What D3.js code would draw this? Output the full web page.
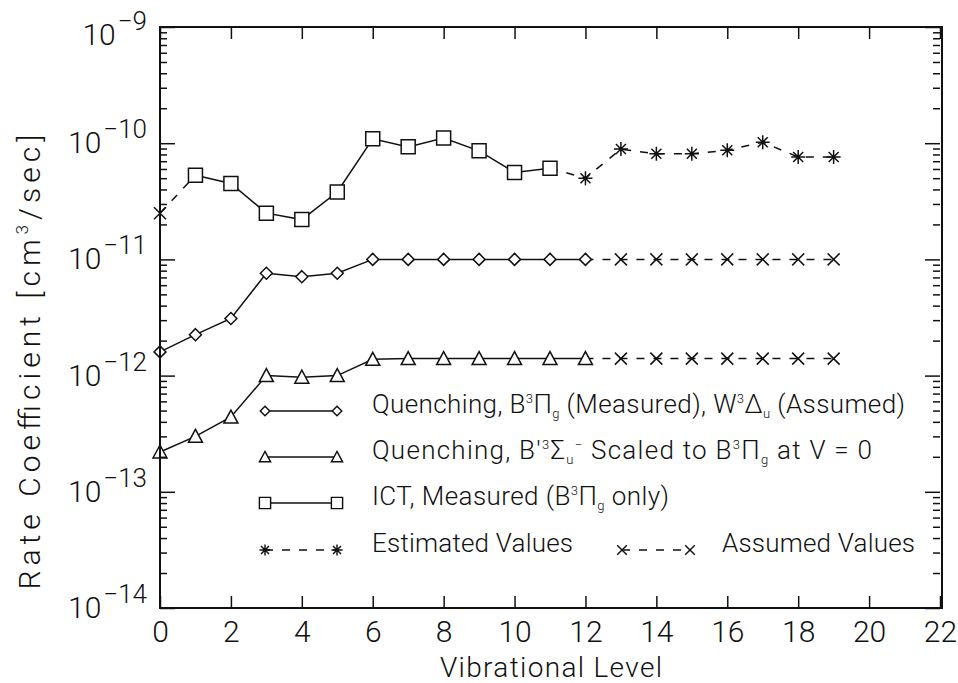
<!DOCTYPE html>
<html>
<head>
<meta charset="utf-8">
<script src="https://cdn.jsdelivr.net/npm/d3@7"></script>
<style>
body { margin:0; background:#fff; }
svg text { font-family: Roboto, "DejaVu Sans", sans-serif; font-weight:300; fill:#111; }
</style>
</head>
<body>
<svg id="chart"></svg>
<script>
// values
var ictLevels = [1,2,3,4,5,6,7,8,9,10,11];
var ictValues = [5.3e-11,4.5e-11,2.5e-11,2.2e-11,3.8e-11,1.09e-10,9.3e-11,1.11e-10,8.6e-11,5.6e-11,6.1e-11];
var ictAssumedLevels = [0];
var ictAssumedValues = [2.5e-11];
var estimatedLevels = [12,13,14,15,16,17,18,19];
var estimatedValues = [5.0e-11,8.9e-11,8.1e-11,8.1e-11,8.7e-11,1.02e-10,7.6e-11,7.6e-11];

var quenchLevels = [0,1,2,3,4,5,6,7,8,9,10,11,12];
var diamondValues = [1.6e-12,2.25e-12,3.1e-12,7.6e-12,7.1e-12,7.6e-12,1.0e-11,1.0e-11,1.0e-11,1.0e-11,1.0e-11,1.0e-11,1.0e-11];
var triangleValues = [2.2e-13,3.0e-13,4.4e-13,1.0e-12,9.7e-13,1.0e-12,1.38e-12,1.4e-12,1.4e-12,1.4e-12,1.4e-12,1.4e-12,1.4e-12];
var assumedLevels = [13,14,15,16,17,18,19];
var diamondAssumed = [1.0e-11,1.0e-11,1.0e-11,1.0e-11,1.0e-11,1.0e-11,1.0e-11];
var triangleAssumed = [1.4e-12,1.4e-12,1.4e-12,1.4e-12,1.4e-12,1.4e-12,1.4e-12];

var xTicks = [0,2,4,6,8,10,12,14,16,18,20,22];
var yDecades = [-14,-13,-12,-11,-10,-9];

var screen = {width:958, height:683};
var plot = {left:160, right:940, top:27, bottom:608};

var svg = d3.select("#chart")
    .attr("width", screen.width)
    .attr("height", screen.height);

var xScale = d3.scaleLinear()
    .domain([0,22])
    .range([plot.left, plot.right]);

var yScale = d3.scaleLog()
    .domain([1e-14,1e-9])
    .range([plot.bottom, plot.top]);

var zip = function(xs, ys) {
    return xs.map(function(x,i){ return {x:x, y:ys[i]}; });
};

// marker shapes, centred on 0,0
var marker = function(type) {
    if (type == "square") return "M-7,-7H7V7H-7Z";
    if (type == "diamond") return "M0,-6L6,0L0,6L-6,0Z";
    if (type == "triangle") return "M0,-7L7,6H-7Z";
    if (type == "asterisk") return "M0,-7V7M-7,0H7M-5,-5L5,5M-5,5L5,-5";
    if (type == "times") return "M-6,-6L6,6M-6,6L6,-6";
};

var line = d3.line()
    .x(function(d){ return xScale(d.x); })
    .y(function(d){ return yScale(d.y); });

var g = svg.append("g");

var drawSeries = function(pts, dashed) {
    g.append("path")
        .datum(pts)
        .attr("d", line)
        .attr("fill","none")
        .attr("stroke","#111")
        .attr("stroke-width",1.5)
        .attr("stroke-dasharray", dashed ? "8,9" : null);
};

var drawMarkers = function(pts, type) {
    g.selectAll(null)
        .data(pts)
        .enter()
        .append("path")
        .attr("transform", function(d){ return "translate("+xScale(d.x)+","+yScale(d.y)+")"; })
        .attr("d", marker(type))
        .attr("fill", type=="asterisk" || type=="times" ? "none" : "#fff")
        .attr("stroke","#111")
        .attr("stroke-width",1.5);
};

var ict = zip(ictLevels, ictValues);
var ictAssumed = zip(ictAssumedLevels, ictAssumedValues);
var estimated = zip(estimatedLevels, estimatedValues);
var diamonds = zip(quenchLevels, diamondValues);
var triangles = zip(quenchLevels, triangleValues);
var dAssumed = zip(assumedLevels, diamondAssumed);
var tAssumed = zip(assumedLevels, triangleAssumed);

// dashed links
drawSeries([ictAssumed[0], ict[0]], true);
drawSeries([ict[ict.length-1]].concat(estimated), true);
drawSeries([diamonds[diamonds.length-1]].concat(dAssumed), true);
drawSeries([triangles[triangles.length-1]].concat(tAssumed), true);
// solid lines
drawSeries(ict, false);
drawSeries(diamonds, false);
drawSeries(triangles, false);

drawMarkers(ict, "square");
drawMarkers(ictAssumed, "times");
drawMarkers(estimated, "asterisk");
drawMarkers(diamonds, "diamond");
drawMarkers(dAssumed, "times");
drawMarkers(triangles, "triangle");
drawMarkers(tAssumed, "times");

// axes: ticks point inward on all four sides
var minors = [];
yDecades.slice(0,-1).forEach(function(e){
    for (var k=2;k<10;k++) minors.push(k*Math.pow(10,e));
});
var majors = yDecades.map(function(e){ return Math.pow(10,e); });

var axes = svg.append("g");
axes.append("g")
    .attr("transform","translate("+plot.left+",0)")
    .call(d3.axisLeft(yScale).tickValues(majors).tickSize(-15).tickFormat(""));
axes.append("g")
    .attr("transform","translate("+plot.left+",0)")
    .call(d3.axisLeft(yScale).tickValues(minors).tickSize(-7).tickFormat(""));
axes.append("g")
    .attr("transform","translate("+plot.right+",0)")
    .call(d3.axisRight(yScale).tickValues(majors).tickSize(-15).tickFormat(""));
axes.append("g")
    .attr("transform","translate("+plot.right+",0)")
    .call(d3.axisRight(yScale).tickValues(minors).tickSize(-7).tickFormat(""));
axes.append("g")
    .attr("class","xaxis")
    .attr("transform","translate(0,"+plot.bottom+")")
    .call(d3.axisBottom(xScale).tickValues(xTicks).tickSize(-12).tickPadding(13));
axes.append("g")
    .attr("transform","translate(0,"+plot.top+")")
    .call(d3.axisTop(xScale).tickValues(xTicks).tickSize(-12).tickFormat(""));

axes.selectAll(".domain").remove();
axes.selectAll(".tick line").attr("stroke","#111").attr("stroke-width",1.5);
axes.selectAll(".xaxis text")
    .style("font-size","30px")
    .attr("fill","#111");

axes.append("rect")
    .attr("x",plot.left).attr("y",plot.top)
    .attr("width",plot.right-plot.left+2).attr("height",plot.bottom-plot.top)
    .attr("fill","none").attr("stroke","#111").attr("stroke-width",2);

// y tick labels 10^-n (top one sits a little lower, as in the original)
var ylab = svg.append("g");
yDecades.forEach(function(e){
    var t = ylab.append("text")
        .attr("x",147)
        .attr("y",yScale(Math.pow(10,e)) + (e == -9 ? 18 : 10))
        .attr("text-anchor","end")
        .style("font-size","30px");
    t.append("tspan").text("10");
    t.append("tspan").attr("dy",-15).attr("dx",2).style("font-size","26px").text("\u2212"+(-e));
});

// axis titles
svg.append("text")
    .attr("x",551).attr("y",677)
    .attr("text-anchor","middle")
    .attr("textLength",222)
    .style("font-size","28px")
    .text("Vibrational Level");

var yt = svg.append("text")
    .attr("transform","translate(40,362) rotate(-90)")
    .attr("text-anchor","middle")
    .attr("textLength",455)
    .style("font-size","30px");
yt.append("tspan").text("Rate Coefficient [cm");
yt.append("tspan").attr("dy",-12).style("font-size","17px").text("3");
yt.append("tspan").attr("dy",12).text("/sec]");

// legend
var legend = svg.append("g");
var legendRows = [
    {y:411, type:"diamond", dashed:false, len:533,
     parts:[["Quenching, B",0],["3","sup"],["\u03A0",0],["g","sub"],[" (Measured), W",0],["3","sup"],["\u0394",0],["u","sub"],[" (Assumed)",0]]},
    {y:457, type:"triangle", dashed:false, len:500,
     parts:[["Quenching, B'",0],["3","sup"],["\u03A3",0],["u","sub"],["\u2212","sup"],[" Scaled to B",0],["3","sup"],["\u03A0",0],["g","sub"],[" at V = 0",0]]},
    {y:503, type:"square", dashed:false, len:297,
     parts:[["ICT, Measured (B",0],["3","sup"],["\u03A0",0],["g","sub"],[" only)",0]]},
    {y:550, type:"asterisk", dashed:true, len:201,
     parts:[["Estimated Values",0]]}
];

var legendItem = function(x0, x1, tx, y, type, dashed, len, parts) {
    legend.append("path")
        .datum([[x0,y],[x1,y]])
        .attr("d", d3.line())
        .attr("stroke","#111").attr("stroke-width",1.5)
        .attr("stroke-dasharray", dashed ? "8,9" : null);
    [x0,x1].forEach(function(px){
        legend.append("path")
            .attr("transform","translate("+px+","+y+") scale(0.8)")
            .attr("d", marker(type))
            .attr("fill", type=="asterisk" || type=="times" ? "none" : "#fff")
            .attr("stroke","#111").attr("stroke-width",1.8);
    });
    var t = legend.append("text")
        .attr("x",tx).attr("y",y+2)
        .attr("textLength",len)
        .style("font-size","26px");
    var shift = 0;
    parts.forEach(function(p){
        var target = p[1]=="sup" ? -10 : (p[1]=="sub" ? 5 : 0);
        var s = t.append("tspan").attr("dy", target-shift).text(p[0]);
        if (p[1]) s.style("font-size","13px");
        shift = target;
    });
};

legendRows.forEach(function(r){
    legendItem(265, 337, 372, r.y, r.type, r.dashed, r.len, r.parts);
});
legendItem(622, 690, 722, 550, "times", true, 193, [["Assumed Values",0]]);
</script>
</body>
</html>
